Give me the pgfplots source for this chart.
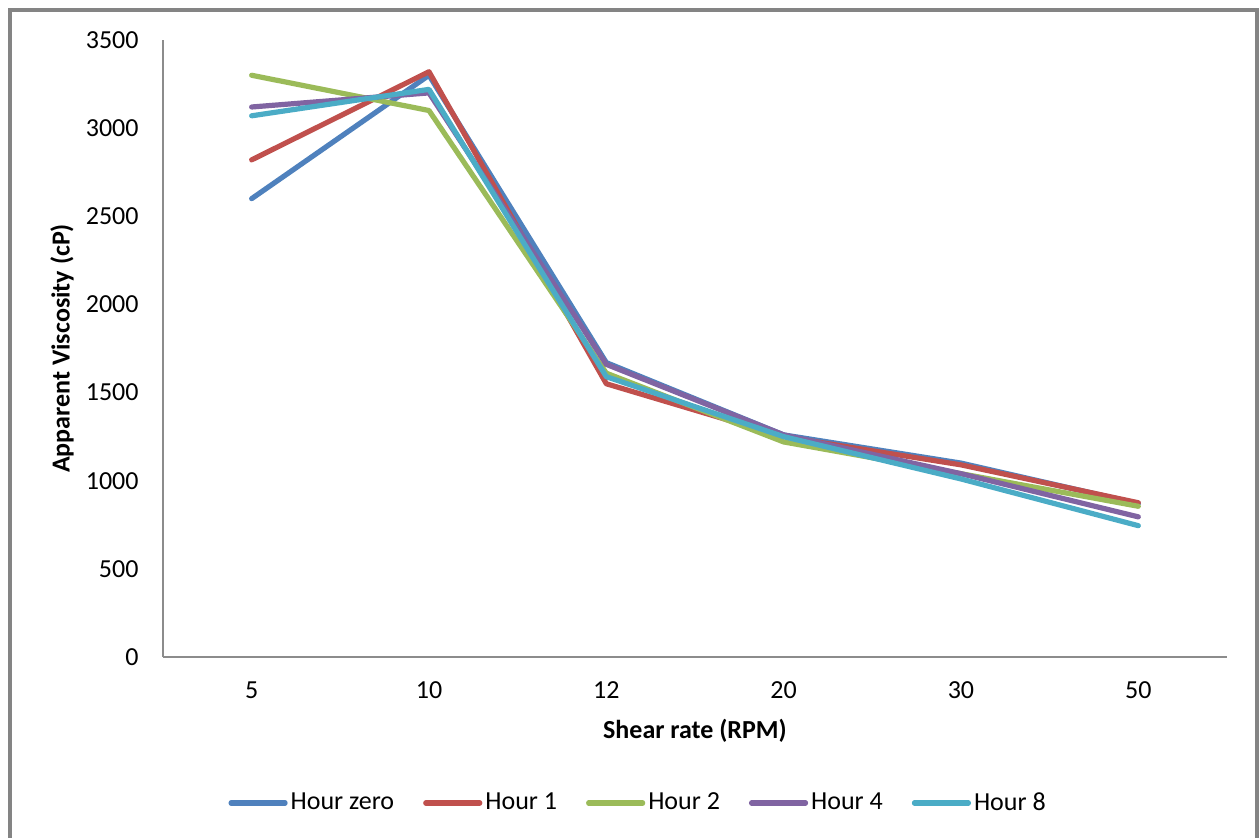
\documentclass[border=0pt]{standalone}
\usepackage{fontspec}
\setmainfont{Carlito}
\usepackage{pgfplots}
\pgfplotsset{compat=1.18}
\definecolor{c1}{HTML}{4F81BD}
\definecolor{c2}{HTML}{C0504D}
\definecolor{c3}{HTML}{9BBB59}
\definecolor{c4}{HTML}{8064A2}
\definecolor{c5}{HTML}{4BACC6}
\definecolor{axgray}{HTML}{8C8C8C}
\definecolor{bordergray}{HTML}{848484}
\begin{document}
\begin{tikzpicture}
\useasboundingbox (-81.5pt,-90pt) rectangle (548.5pt,328.5pt);
\begin{axis}[
  at={(0pt,0pt)}, anchor=south west,
  scale only axis, width=532pt, height=308.5pt,
  xmin=-0.5, xmax=5.5, ymin=0, ymax=3500,
  xtick={0,1,2,3,4,5},
  xticklabels={5,10,12,20,30,50},
  ytick={0,500,1000,1500,2000,2500,3000,3500},
  axis x line*=bottom, axis y line*=left,
  axis line style={draw=axgray, line width=0.9pt, -},
  major tick length=0pt,
  tick style={draw=none},
  /pgf/number format/assume math mode=true,
  /pgf/number format/set thousands separator={},
  ticklabel style={font=\fontsize{13}{15}\selectfont},
  yticklabel style={xshift=-8.7pt},
  xticklabel style={yshift=-9pt},
  xlabel={\textbf{Shear rate (RPM)}},
  ylabel={\textbf{Apparent Viscosity (cP)}},
  label style={font=\fontsize{13}{15}\selectfont},
  xlabel style={at={(axis description cs:0.5,-0.1199)}, anchor=center},
  ylabel style={at={(axis description cs:-0.0949,0.5)}, anchor=center},
  legend columns=5,
  legend style={draw=none, fill=none, at={(axis description cs:0.447,-0.2366)}, anchor=center,
    font=\fontsize{13}{15}\selectfont,
    nodes={inner sep=1.5pt},
    /tikz/every even column/.append style={column sep=13pt}},
  legend image code/.code={\draw[#1, line width=2.6pt, line cap=round] (0pt,0pt) -- (27pt,0pt);},
  every axis plot/.append style={line width=2.6pt, line join=round, line cap=round, mark=none},
]
\addplot[c1] coordinates {(0,2600) (1,3300) (2,1670) (3,1260) (4,1100) (5,870)};
\addlegendentry{Hour zero}
\addplot[c2] coordinates {(0,2820) (1,3320) (2,1550) (3,1250) (4,1090) (5,875)};
\addlegendentry{Hour 1}
\addplot[c3] coordinates {(0,3300) (1,3100) (2,1610) (3,1220) (4,1040) (5,855)};
\addlegendentry{Hour 2}
\addplot[c4] coordinates {(0,3120) (1,3200) (2,1660) (3,1260) (4,1040) (5,795)};
\addlegendentry{Hour 4}
\addplot[c5] coordinates {(0,3070) (1,3220) (2,1590) (3,1250) (4,1010) (5,745)};
\addlegendentry{Hour 8}
\end{axis}
\draw[bordergray, line width=2pt] (-76.5pt,-95pt) -- (-76.5pt,323.5pt) -- (547pt,323.5pt) -- (547pt,-95pt);
\end{tikzpicture}
\end{document}
